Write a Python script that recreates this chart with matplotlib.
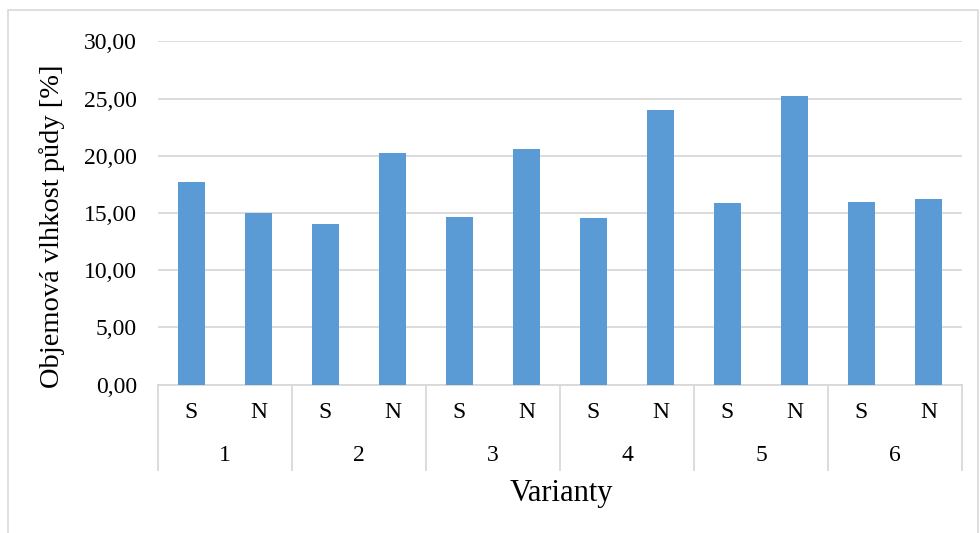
import matplotlib
matplotlib.use("Agg")
import matplotlib.pyplot as plt
from matplotlib.patches import Rectangle

# data
groups = ["1", "2", "3", "4", "5", "6"]
subcats = ["S", "N"]
values = [17.73, 15.02, 14.03, 20.21, 14.62, 20.59,
          14.53, 24.02, 15.84, 25.22, 15.93, 16.19]
yticks = [0, 5, 10, 15, 20, 25, 30]

plt.rcParams['font.family'] = ['Liberation Serif', 'DejaVu Serif']

BAR = "#5b9bd5"
GRID = "#d9d9d9"
FS = 17

fig = plt.figure(figsize=(9.8, 5.33), dpi=100)
ax = fig.add_axes([0.1612, 0.2786, 0.8204, 0.6439])

n = len(values)
xs = list(range(n))
ax.bar(xs, values, width=0.4, color=BAR, zorder=3)

ax.set_xlim(-0.5, n - 0.5)
ax.set_ylim(0, 30)
ax.set_yticks(yticks)
ax.set_yticklabels([f"{v:.2f}".replace(".", ",") for v in yticks], fontsize=FS)
ax.yaxis.grid(True, color=GRID, linewidth=1.3, zorder=0)
ax.tick_params(axis='y', length=0, pad=15)
ax.tick_params(axis='x', length=0)
ax.set_xticks([])
for s in ["left", "right", "top"]:
    ax.spines[s].set_visible(False)
ax.spines["bottom"].set_color(GRID)
ax.spines["bottom"].set_linewidth(1.3)

# two-level category axis
trans = ax.get_xaxis_transform()
for i, v in enumerate(xs):
    ax.text(v, -0.083, subcats[i % 2], transform=trans, ha="center", va="center", fontsize=FS)
for g, name in enumerate(groups):
    ax.text(2 * g + 0.5, -0.208, name, transform=trans, ha="center", va="center", fontsize=FS)
for k in range(len(groups) + 1):
    ax.plot([2 * k - 0.5] * 2, [0, -0.25], transform=trans, color=GRID,
            linewidth=1.3, clip_on=False)

fig.text(561 / 980, 1 - 493 / 533, "Varianty", ha="center", va="center", fontsize=22)
fig.text(52 / 980, 1 - 226 / 533, "Objemová vlhkost půdy [%]", rotation=90,
         ha="center", va="center", fontsize=20.5)

# chart border
fig.patches.append(Rectangle((8 / 980, -0.1), 970 / 980, 1.1 - 10 / 533,
                             transform=fig.transFigure, fill=False,
                             edgecolor=GRID, linewidth=1.2))

fig.savefig("out.png", dpi=100)
